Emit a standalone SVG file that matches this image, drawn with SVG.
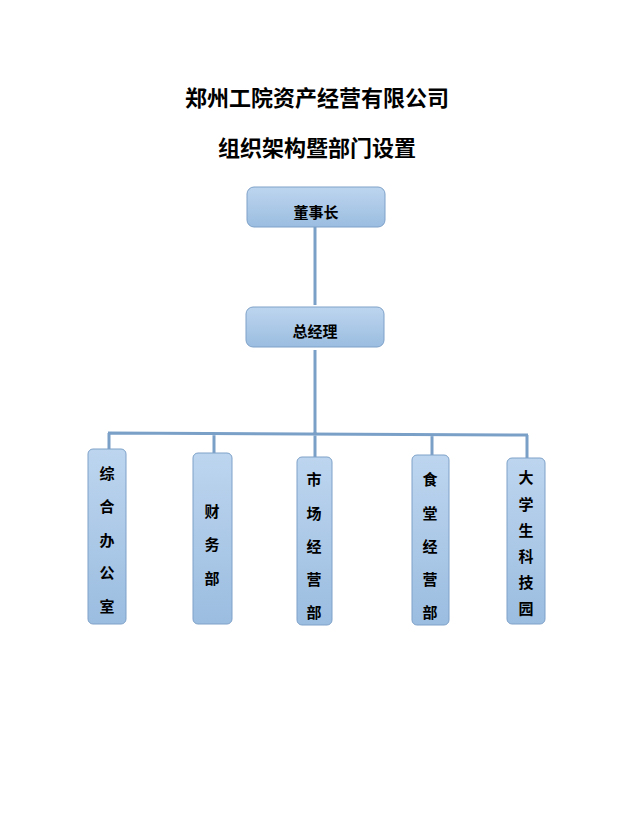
<svg xmlns="http://www.w3.org/2000/svg" width="624" height="827" viewBox="0 0 624 827">
<defs>
<linearGradient id="g" x1="0" y1="0" x2="0" y2="1"><stop offset="0" stop-color="#bdd5ef"/><stop offset="1" stop-color="#9bbde0"/></linearGradient>
<style>
.b{fill:url(#g);stroke:#7ea1c8;stroke-width:1}
.t{font-family:"Noto Sans CJK SC",sans-serif;font-weight:bold;font-size:15px;fill:#000;text-anchor:middle;dominant-baseline:central}
.h{font-family:"Noto Sans CJK SC",sans-serif;font-weight:bold;font-size:22px;fill:#000;text-anchor:middle;dominant-baseline:central}
.c{stroke:#7aa0c8;stroke-width:3;fill:none}
</style>
</defs>
<rect width="624" height="827" fill="#fff"/>
<text class="h" x="317" y="96">郑州工院资产经营有限公司</text>
<text class="h" x="317" y="146">组织架构暨部门设置</text>
<g id="connectors">
<path class="c" d="M315 227V305M315 350V434M108 433L528 435M109 433V449M214 434V453M315 434V457M432 434V455M527 435V458"/>
</g>
<g id="n1"><rect class="b" x="247" y="187" width="138" height="40" rx="7"/><text class="t" x="316" y="211">董事长</text></g>
<g id="n2"><rect class="b" x="246" y="307" width="138" height="40" rx="7"/><text class="t" x="315" y="330">总经理</text></g>
<g id="n3"><rect class="b" x="88" y="449" width="38" height="175" rx="5"/>
<text class="t" x="107" y="472">综</text><text class="t" x="107" y="505">合</text><text class="t" x="107" y="539">办</text><text class="t" x="107" y="571">公</text><text class="t" x="107" y="605">室</text></g>
<g id="n4"><rect class="b" x="193" y="453" width="39" height="171" rx="5"/>
<text class="t" x="212" y="510">财</text><text class="t" x="212" y="543">务</text><text class="t" x="212" y="577">部</text></g>
<g id="n5"><rect class="b" x="297" y="457" width="35" height="168" rx="5"/>
<text class="t" x="314" y="478">市</text><text class="t" x="314" y="512">场</text><text class="t" x="314" y="545">经</text><text class="t" x="314" y="578">营</text><text class="t" x="314" y="611">部</text></g>
<g id="n6"><rect class="b" x="412" y="455" width="37" height="170" rx="5"/>
<text class="t" x="430" y="478">食</text><text class="t" x="430" y="512">堂</text><text class="t" x="430" y="545">经</text><text class="t" x="430" y="578">营</text><text class="t" x="430" y="611">部</text></g>
<g id="n7"><rect class="b" x="507" y="458" width="38" height="166" rx="5"/>
<text class="t" x="526" y="476">大</text><text class="t" x="526" y="503">学</text><text class="t" x="526" y="529">生</text><text class="t" x="526" y="555">科</text><text class="t" x="526" y="581">技</text><text class="t" x="526" y="607">园</text></g>
</svg>
